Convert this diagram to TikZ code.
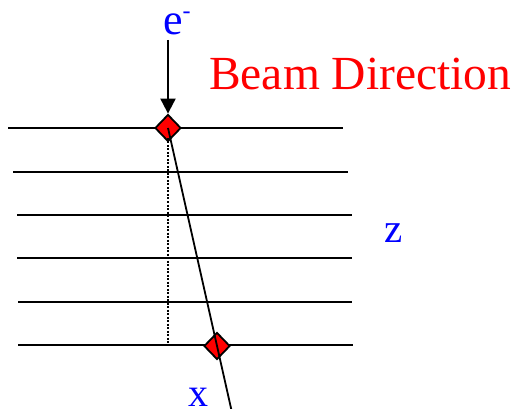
\documentclass[tikz,border=0pt]{standalone}
\usepackage{fontspec}
\setmainfont{Liberation Serif}
\usetikzlibrary{shapes.geometric,arrows.meta}
\definecolor{pblue}{RGB}{0,0,255}
\definecolor{pred}{RGB}{255,0,0}
\begin{document}
\begin{tikzpicture}[x=1pt,y=-1pt,
  layer/.style={line width=2pt, black},
  hit/.style={diamond, draw=black, line width=1.8pt, fill=pred, inner sep=0pt, minimum width=26pt, minimum height=27pt},
  track/.style={line width=1.8pt, black},
  proj/.style={line width=1.6pt, dash pattern=on 2pt off 1.5pt},
  lbl/.style={inner sep=0pt, anchor=base west}
]
\useasboundingbox (0,0) rectangle (517,409);
% detector planes
\draw[layer] (8,128) coordinate (l1a) -- (343,128) coordinate (l1b);
\draw[layer] (13,172) coordinate (l2a) -- (348,172) coordinate (l2b);
\draw[layer] (17,215) coordinate (l3a) -- (352,215) coordinate (l3b);
\draw[layer] (17,258) coordinate (l4a) -- (352,258) coordinate (l4b);
\draw[layer] (18,302) coordinate (l5a) -- (352,302) coordinate (l5b);
\draw[layer] (18,345) coordinate (l6a) -- (353,345) coordinate (l6b);
% hits
\node[hit] (d1) at (168,128) {};
\node[hit] (d2) at (217,346) {};
% track
\coordinate (tend) at (231.2,409);
\draw[track] (d1.center) -- (tend);
% projection
\coordinate (p1) at (168,138);
\coordinate (p2) at (168,343);
\draw[proj] (p1) -- (p2);
% beam arrow
\coordinate (a0) at (168,40);
\draw[line width=2pt, -{Triangle[length=15pt,width=15pt]}] (a0) -- (d1.north);
% labels
\node[lbl, text=pblue, font=\fontsize{44}{44}\selectfont] (e) at (163,35) {e\raisebox{16pt}{\fontsize{24}{24}\selectfont -}};
\node[lbl, text=pred, font=\fontsize{47.5}{47.5}\selectfont] (beam) at (209,90) {Beam Direction};
\node[lbl, text=pblue, font=\fontsize{41}{41}\selectfont] (z) at (384,242) {z};
\node[lbl, text=pblue, font=\fontsize{40}{40}\selectfont] (x) at (188,406) {x};
\end{tikzpicture}
\end{document}
